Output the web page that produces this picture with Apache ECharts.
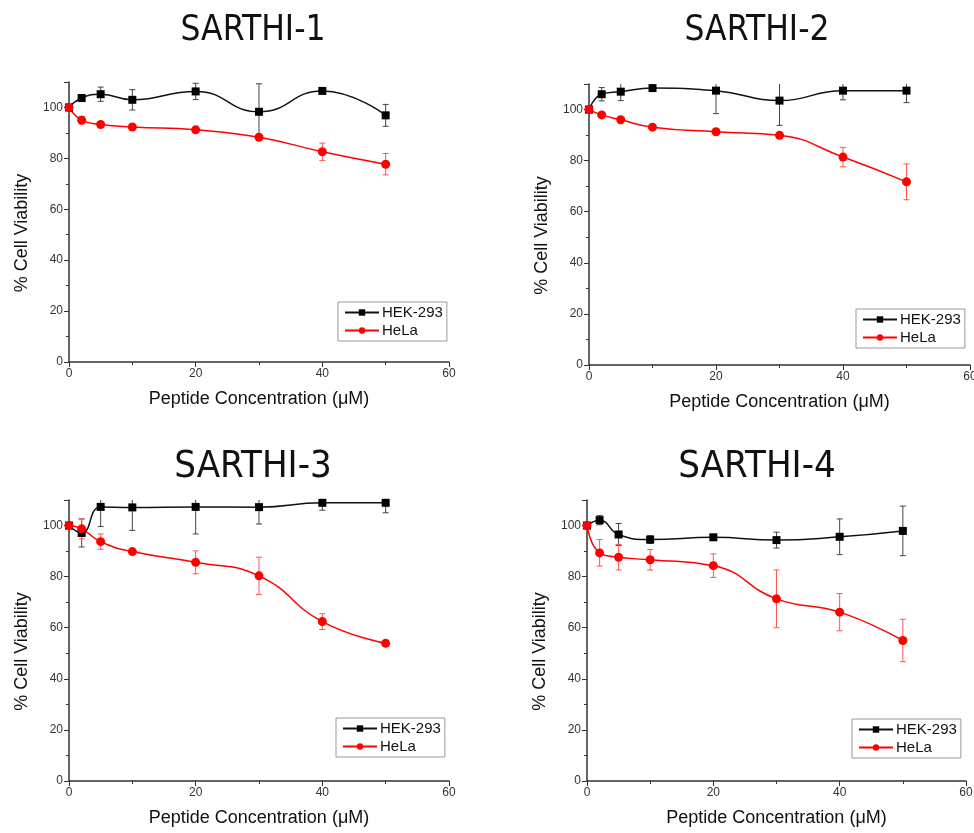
<!DOCTYPE html>
<html>
<head>
<meta charset="utf-8">
<script src="https://cdn.jsdelivr.net/npm/echarts@6/dist/echarts.min.js"></script>
<style>
    html, body { margin: 0; padding: 0; background: #fff; }
    #chart { width: 974px; height: 833px; }
</style>
</head>
<body>
<div id="chart"></div>
<script>
// concentration (uM)
var conc = [0, 2, 5, 10, 20, 30, 40, 50];
var titles = ['SARTHI-1', 'SARTHI-2', 'SARTHI-3', 'SARTHI-4'];
var xTicks = [0, 20, 40, 60];
var yTicks = [0, 20, 40, 60, 80, 100];

// % cell viability
var hek1 = [100, 103.7, 105.2, 103.0, 106.3, 98.3, 106.5, 96.9];
var hek1Err = [0, 0.8, 2.8, 4, 3.2, 11, 0.5, 4.3];
var hela1 = [100, 95.0, 93.3, 92.3, 91.2, 88.3, 82.6, 77.7];
var hela1Err = [0, 1.5, 1, 1, 1, 1, 3.4, 4.2];

var hek2 = [100, 106.0, 107.0, 108.4, 107.4, 103.5, 107.4, 107.4];
var hek2Err = [0, 2.6, 3.5, 0.5, 9, 9.7, 3.6, 4.7];
var hela2 = [100, 97.9, 96.0, 93.1, 91.3, 89.9, 81.4, 71.7];
var hela2Err = [0, 0.8, 0.8, 0.8, 0.8, 1, 3.8, 7];

var hek3 = [100, 97.1, 107.3, 107.1, 107.3, 107.2, 108.9, 108.9];
var hek3Err = [0, 5.5, 7.7, 9, 10.6, 6.6, 2.9, 3.9];
var hela3 = [100, 98.7, 93.7, 89.8, 85.6, 80.3, 62.4, 53.9];
var hela3Err = [0, 3.9, 3, 1, 4.5, 7.3, 3.1, 0.8];

var hek4 = [100, 102.1, 96.5, 94.5, 95.4, 94.3, 95.6, 97.9];
var hek4Err = [0, 1.8, 4.3, 1.5, 0.8, 3.1, 7, 9.7];
var hela4 = [100, 89.3, 87.6, 86.6, 84.3, 71.3, 66.1, 55.0];
var hela4Err = [0, 5.2, 5, 4, 4.6, 11.3, 7.3, 8.3];

var hekAll = [hek1, hek2, hek3, hek4];
var hekErrAll = [hek1Err, hek2Err, hek3Err, hek4Err];
var helaAll = [hela1, hela2, hela3, hela4];
var helaErrAll = [hela1Err, hela2Err, hela3Err, hela4Err];

// panel boxes (plot area)
var grids = [
    { left: 69, top: 82, width: 380, height: 280 },
    { left: 589, top: 84, width: 381, height: 281 },
    { left: 69, top: 500, width: 380, height: 281 },
    { left: 587, top: 500, width: 379, height: 281 }
];
var legendPos = [
    { left: 338, top: 302 },
    { left: 856, top: 309 },
    { left: 336, top: 718 },
    { left: 852, top: 719 }
];
var titlePos = [[253, 31], [757, 31], [253, 467], [757, 467]];

var fontFamily = 'Liberation Sans, Arial, sans-serif';

function pairs(ys) {
    return conc.map(function (x, i) { return [x, ys[i]]; });
}

function errData(ys, errs) {
    return conc.map(function (x, i) { return [x, ys[i] - errs[i], ys[i] + errs[i]]; });
}

function errSeries(idx, ys, errs, color) {
    return {
        type: 'custom',
        xAxisIndex: idx,
        yAxisIndex: idx,
        clip: true,
        z: 1,
        silent: true,
        data: errData(ys, errs),
        renderItem: function (params, api) {
            var lo = api.coord([api.value(0), api.value(1)]);
            var hi = api.coord([api.value(0), api.value(2)]);
            var cap = 3;
            var st = { stroke: color, lineWidth: 1 };
            return {
                type: 'group',
                children: [
                    { type: 'line', shape: { x1: lo[0], y1: lo[1], x2: hi[0], y2: hi[1] }, style: st },
                    { type: 'line', shape: { x1: lo[0] - cap, y1: lo[1], x2: lo[0] + cap, y2: lo[1] }, style: st },
                    { type: 'line', shape: { x1: hi[0] - cap, y1: hi[1], x2: hi[0] + cap, y2: hi[1] }, style: st }
                ]
            };
        }
    };
}

var option = {
    backgroundColor: '#fff',
    animation: false,
    graphic: [],
    legend: [],
    grid: [],
    xAxis: [],
    yAxis: [],
    series: []
};

for (var i = 0; i < 4; i++) {
    option.graphic.push({
        type: 'text',
        x: titlePos[i][0],
        y: titlePos[i][1],
        style: {
            text: titles[i],
            fill: '#111',
            font: (i < 2 ? '35px' : '38px') + ' "Liberation Sans Narrow", "DejaVu Sans Condensed", sans-serif',
            textAlign: 'center',
            textVerticalAlign: 'middle'
        }
    });

    var g = grids[i];
    option.grid.push({
        left: g.left, top: g.top, width: g.width, height: g.height,
        containLabel: false,
        outerBoundsMode: 'none'
    });

    option.legend.push({
        left: legendPos[i].left,
        top: legendPos[i].top,
        orient: 'vertical',
        data: ['HEK-293', 'HeLa'],
        itemWidth: 34,
        itemHeight: 8,
        itemGap: 3,
        padding: [3, 4, 3, 6],
        borderColor: '#999',
        borderWidth: 1,
        selectedMode: false,
        textStyle: { fontFamily: fontFamily, fontSize: 15, color: '#111', padding: [0, 0, 0, -2] }
    });

    option.xAxis.push({
        type: 'value',
        gridIndex: i,
        min: 0,
        max: 60,
        interval: 20,
        name: 'Peptide Concentration (μM)',
        nameLocation: 'middle',
        nameGap: 28,
        nameTextStyle: { fontFamily: fontFamily, fontSize: 18, color: '#111' },
        axisLine: { lineStyle: { color: '#333', width: 1.5 } },
        axisTick: { inside: false, length: 5, lineStyle: { color: '#333' } },
        minorTick: { show: true, splitNumber: 2, length: 3, lineStyle: { color: '#333' } },
        axisLabel: { fontFamily: fontFamily, fontSize: 12, color: '#333', margin: 6 },
        splitLine: { show: false }
    });

    option.yAxis.push({
        type: 'value',
        gridIndex: i,
        min: 0,
        max: 110,
        interval: 20,
        name: '% Cell Viability',
        nameLocation: 'middle',
        nameGap: 38,
        nameTextStyle: { fontFamily: fontFamily, fontSize: 18, color: '#111', padding: [0, 22, 0, 0] },
        axisLine: { show: true, lineStyle: { color: '#333', width: 1.5 } },
        axisTick: { show: true, inside: false, length: 5, lineStyle: { color: '#333' } },
        minorTick: { show: true, splitNumber: 2, length: 3, lineStyle: { color: '#333' } },
        axisLabel: { fontFamily: fontFamily, fontSize: 12, color: '#333', margin: 6, showMaxLabel: false },
        splitLine: { show: false }
    });

    option.series.push(errSeries(i, hekAll[i], hekErrAll[i], '#444'));
    option.series.push(errSeries(i, helaAll[i], helaErrAll[i], '#f55'));

    option.series.push({
        name: 'HEK-293',
        type: 'line',
        xAxisIndex: i,
        yAxisIndex: i,
        smooth: true,
        symbol: 'rect',
        symbolSize: 8,
        z: 3,
        data: pairs(hekAll[i]),
        lineStyle: { color: '#111', width: 1.5 },
        itemStyle: { color: '#000' }
    });
    option.series.push({
        name: 'HeLa',
        type: 'line',
        xAxisIndex: i,
        yAxisIndex: i,
        smooth: true,
        symbol: 'circle',
        symbolSize: 9,
        z: 3,
        data: pairs(helaAll[i]),
        lineStyle: { color: '#f00', width: 1.5 },
        itemStyle: { color: '#f00' }
    });
}

var chart = echarts.init(document.getElementById('chart'), null, { renderer: 'canvas' });
chart.setOption(option);
</script>
</body>
</html>
